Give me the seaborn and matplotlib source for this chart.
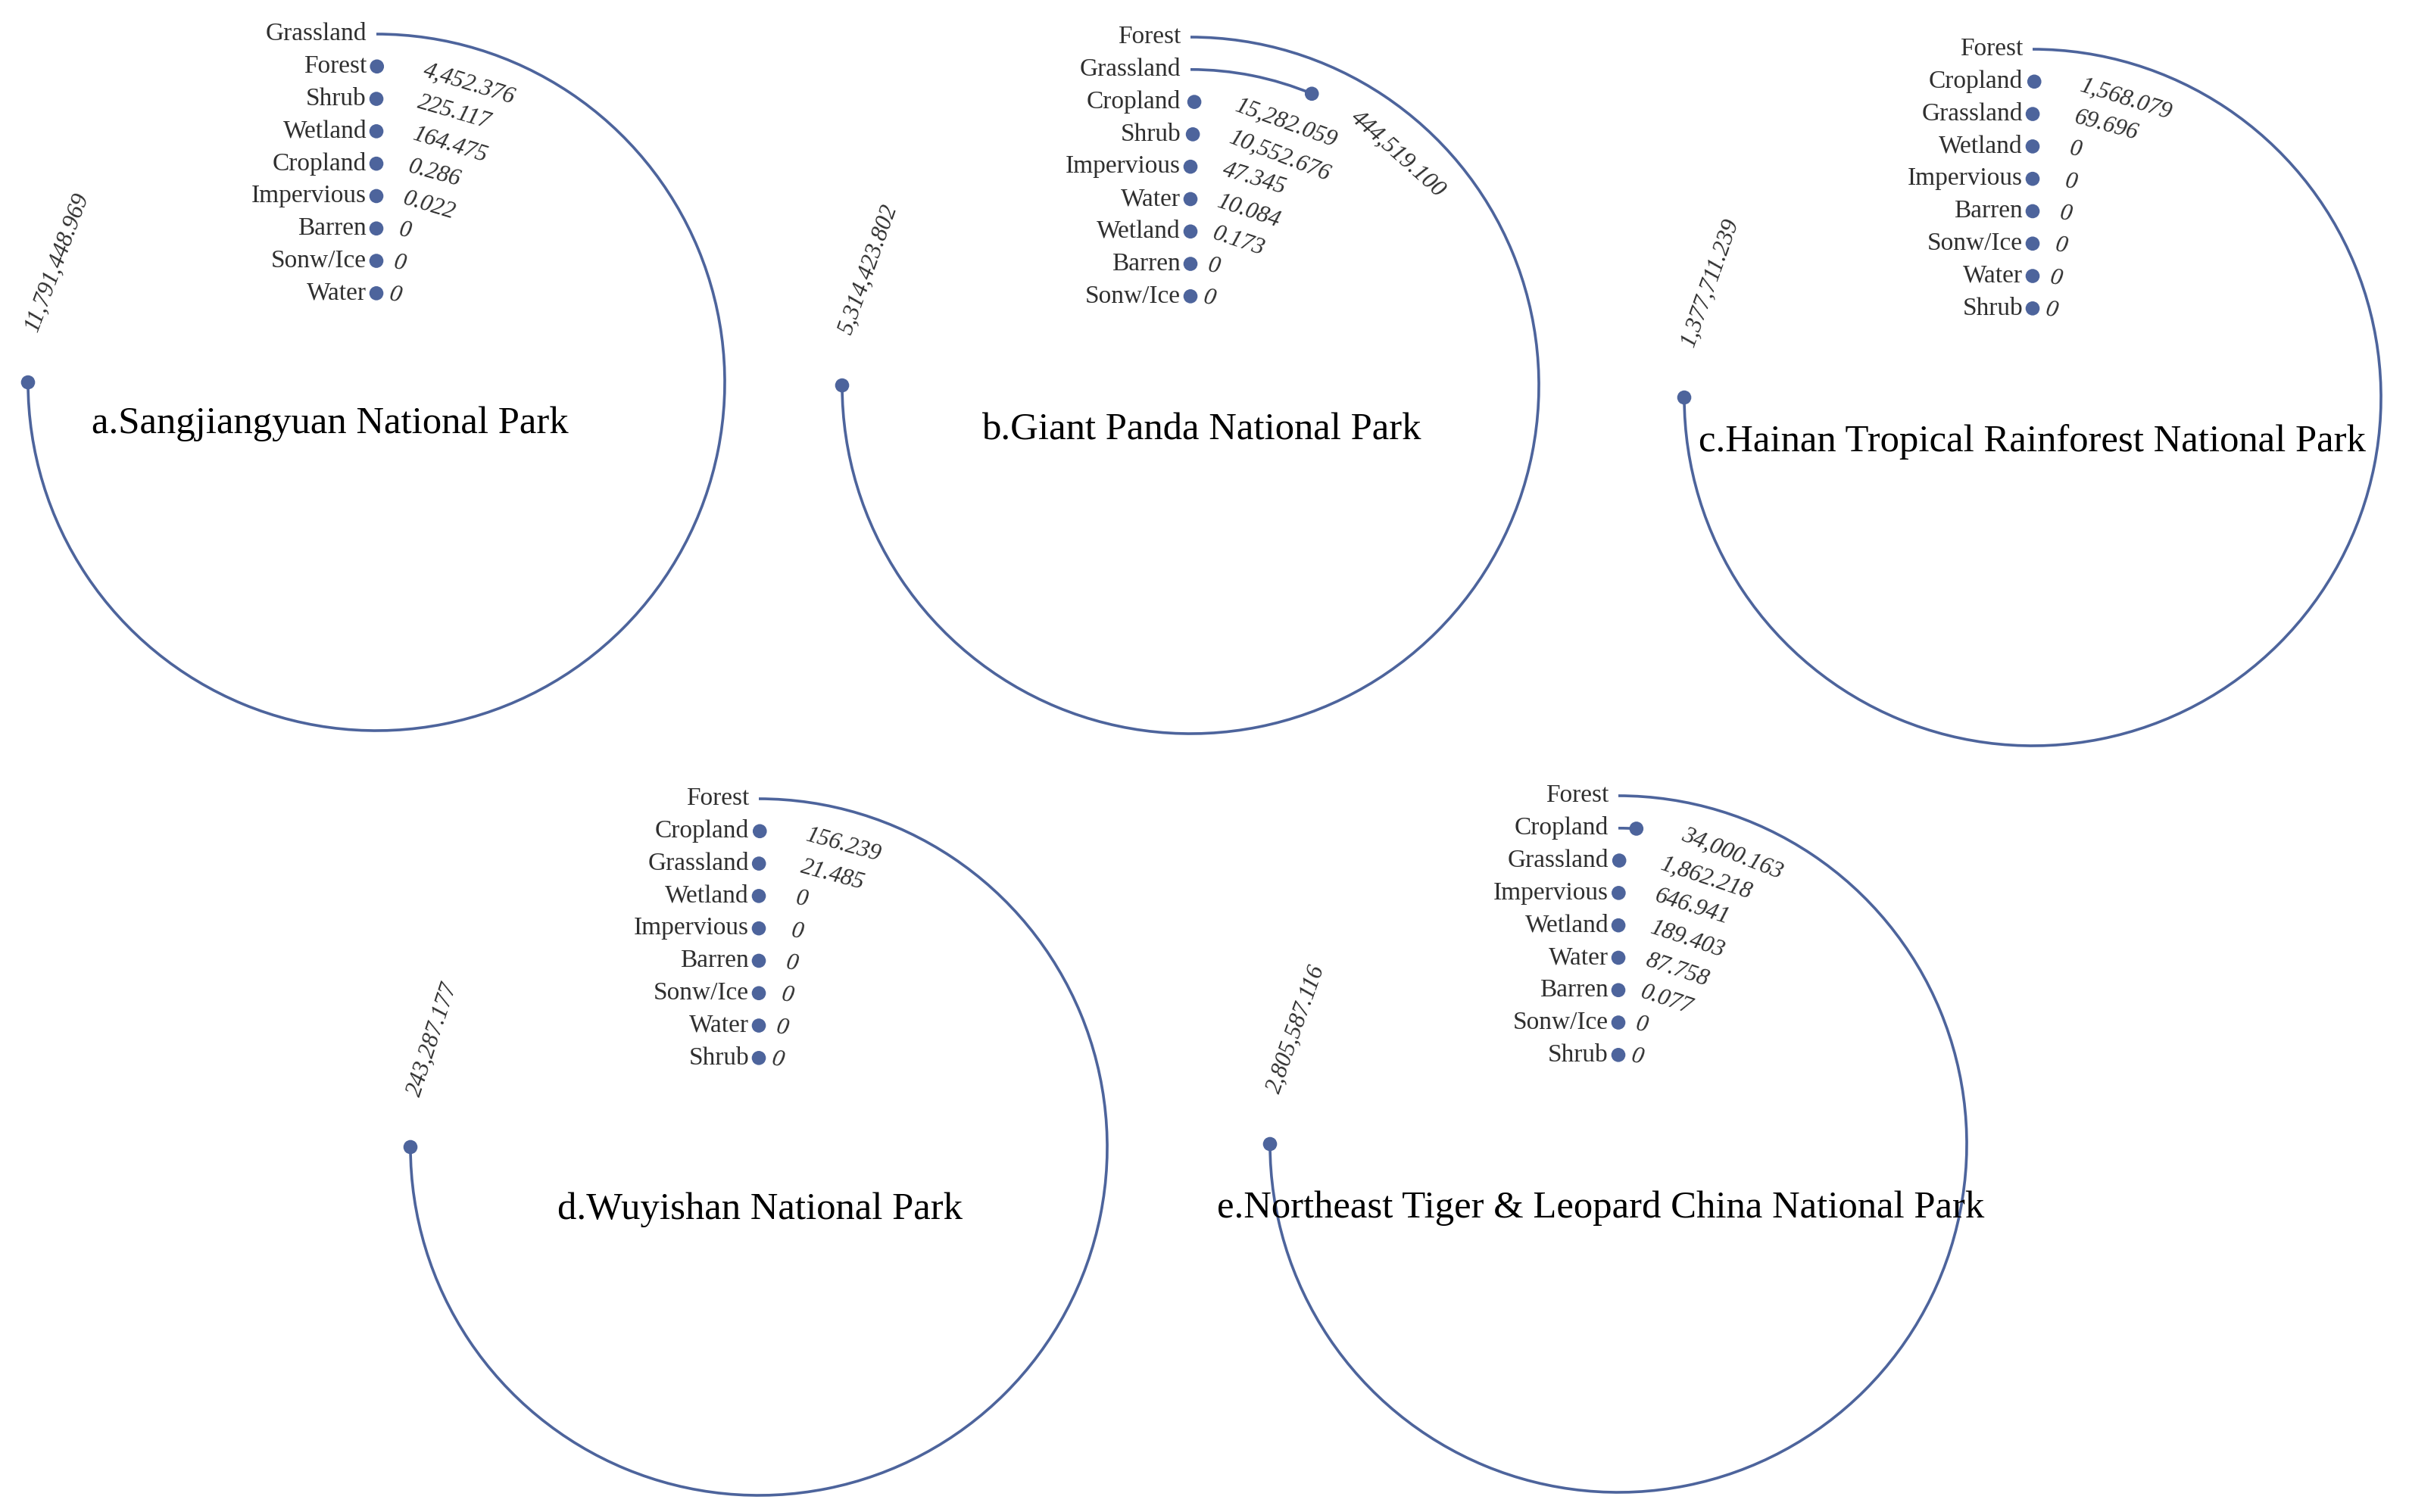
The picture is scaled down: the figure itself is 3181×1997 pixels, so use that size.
import numpy as np
import matplotlib
matplotlib.use("Agg")
import matplotlib.pyplot as plt
import seaborn as sns

# land cover per park, outer ring first
a_cats = ["Grassland", "Forest", "Shrub", "Wetland", "Cropland", "Impervious", "Barren", "Sonw/Ice", "Water"]
a_vals = [11791448.969, 4452.376, 225.117, 164.475, 0.286, 0.022, 0, 0, 0]

b_cats = ["Forest", "Grassland", "Cropland", "Shrub", "Impervious", "Water", "Wetland", "Barren", "Sonw/Ice"]
b_vals = [5314423.802, 444519.100, 15282.059, 10552.676, 47.345, 10.084, 0.173, 0, 0]

c_cats = ["Forest", "Cropland", "Grassland", "Wetland", "Impervious", "Barren", "Sonw/Ice", "Water", "Shrub"]
c_vals = [1377711.239, 1568.079, 69.696, 0, 0, 0, 0, 0, 0]

d_cats = ["Forest", "Cropland", "Grassland", "Wetland", "Impervious", "Barren", "Sonw/Ice", "Water", "Shrub"]
d_vals = [243287.177, 156.239, 21.485, 0, 0, 0, 0, 0, 0]

e_cats = ["Forest", "Cropland", "Grassland", "Impervious", "Wetland", "Water", "Barren", "Sonw/Ice", "Shrub"]
e_vals = [2805587.116, 34000.163, 1862.218, 646.941, 189.403, 87.758, 0.077, 0, 0]

titles = ["a.Sangjiangyuan National Park",
          "b.Giant Panda National Park",
          "c.Hainan Tropical Rainforest National Park",
          "d.Wuyishan National Park",
          "e.Northeast Tiger & Leopard China National Park"]

sns.set_theme(style="white")
plt.rcParams["font.family"] = ["Liberation Serif", "DejaVu Serif"]

color = "#4d649c"
W, H = 3181, 1997
R = 460          # outer ring radius in px
y0 = -1.75       # radial value at the centre

# circle centre (cx, cy) and title centre (tx, ty) in px
layout = [(497, 505, 436, 560),
          (1572, 509, 1586, 568),
          (2684, 525, 2683, 584),
          (1002, 1515, 1003, 1598),
          (2137, 1511, 2114, 1596)]
data = [(a_cats, a_vals), (b_cats, b_vals), (c_cats, c_vals), (d_cats, d_vals), (e_cats, e_vals)]

fig = plt.figure(figsize=(W / 100, H / 100), dpi=100)
value_texts = []

for (cats, vals), title, (cx, cy, tx, ty) in zip(data, titles, layout):
    ax = fig.add_axes([(cx - R) / W, 1 - (cy + R) / H, 2 * R / W, 2 * R / H], projection="polar")
    ax.set_theta_zero_location("N")
    ax.set_theta_direction(-1)
    n = len(cats)
    ring = np.arange(n, 0, -1)
    v = np.asarray(vals, dtype=float)
    theta = v / v.max() * 1.5 * np.pi  # biggest class takes 3/4 of the circle

    ax.bar(np.zeros(n), 0.085, width=theta, bottom=ring - 0.0425, align="edge",
           color=color, linewidth=0, clip_on=False)
    sns.scatterplot(x=theta, y=ring, ax=ax, color=color, s=180, edgecolor="none",
                    clip_on=False, legend=False, zorder=3)
    ax.set_ylim(y0, n)
    ax.axis("off")

    for cat, r in zip(cats, ring):
        ax.annotate(cat, xy=(0, r), xytext=(-13, 0), textcoords="offset pixels",
                    ha="right", va="center", fontsize=24, color="#2f2f2f")

    for val, t, r in zip(v, theta, ring):
        lab = "0" if val == 0 else f"{val:,.3f}"
        phi = t + np.deg2rad(8.5)
        txt = ax.text(phi, r, lab, ha="left", va="center", rotation_mode="anchor",
                      fontsize=22.5, style="italic", color="#2f2f2f")
        value_texts.append((txt, phi, (r - y0) / (n - y0) * R))

    fig.text(tx / W, 1 - ty / H, title, ha="center", va="center", fontsize=36.5, color="black")

# turn value labels into chords along their ring
fig.canvas.draw()
renderer = fig.canvas.get_renderer()
for txt, phi, rpx in value_texts:
    w = txt.get_window_extent(renderer).width
    mid = phi + w / 2 / rpx
    txt.set_rotation(-np.rad2deg(mid))

fig.savefig("out.png", dpi=100)
